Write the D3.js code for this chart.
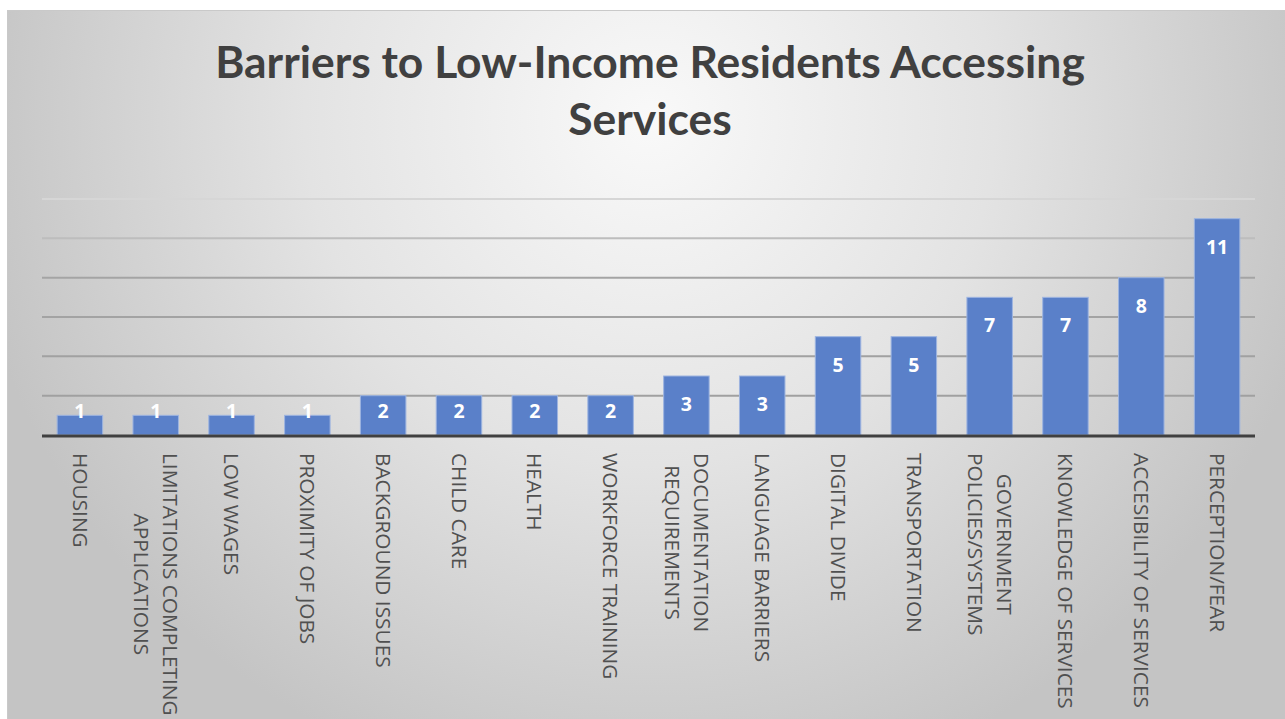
<!DOCTYPE html>
<html>
<head>
<meta charset="utf-8">
<script src="https://cdn.jsdelivr.net/npm/d3@7"></script>
<style>
  html, body { margin: 0; padding: 0; background: #ffffff; }
  svg { display: block; }
</style>
</head>
<body>
<svg id="chart" width="1285" height="719"></svg>
<script>
// Survey responses: barriers reported by low-income residents
const categories = [
  "HOUSING",
  "LIMITATIONS COMPLETING\nAPPLICATIONS",
  "LOW WAGES",
  "PROXIMITY OF JOBS",
  "BACKGROUND ISSUES",
  "CHILD CARE",
  "HEALTH",
  "WORKFORCE TRAINING",
  "DOCUMENTATION\nREQUIREMENTS",
  "LANGUAGE BARRIERS",
  "DIGITAL DIVIDE",
  "TRANSPORTATION",
  "GOVERNMENT\nPOLICIES/SYSTEMS",
  "KNOWLEDGE OF SERVICES",
  "ACCESIBILITY OF SERVICES",
  "PERCEPTION/FEAR"
];
const counts = [1, 1, 1, 1, 2, 2, 2, 2, 3, 3, 5, 5, 7, 7, 8, 11];
const gridTicks = [2, 4, 6, 8, 10, 12];
const titleLines = ["Barriers to Low-Income Residents Accessing", "Services"];

const svg = d3.select("#chart");
const W = 1285, H = 719;

// Chart area background with a soft radial shading
const defs = svg.append("defs");
const grad = defs.append("radialGradient")
  .attr("id", "bg")
  .attr("gradientUnits", "userSpaceOnUse")
  .attr("cx", 650).attr("cy", 120)
  .attr("fx", 650).attr("fy", 120)
  .attr("r", 690);
grad.append("stop").attr("offset", "0%").attr("stop-color", "#f9f9f9");
grad.append("stop").attr("offset", "50%").attr("stop-color", "#e3e3e3");
grad.append("stop").attr("offset", "100%").attr("stop-color", "#c4c4c4");

svg.append("rect")
  .attr("x", 7.5).attr("y", 10.5)
  .attr("width", W - 7).attr("height", H - 10)
  .attr("fill", "url(#bg)")
  .attr("stroke", "#c9c9c9").attr("stroke-width", 1);

// Scales
const plot = { left: 42, right: 1255, top: 199, bottom: 435 };
const x = d3.scaleBand()
  .domain(categories)
  .range([plot.left, plot.right])
  .paddingInner(0.4)
  .paddingOuter(0.2);
const y = d3.scaleLinear().domain([0, 12]).range([plot.bottom, plot.top]);

// Horizontal gridlines
const gridColor = d3.scaleLinear().domain([2, 8, 12]).range(["#a0a0a0", "#a4a4a4", "#d6d6d6"]);
svg.append("g")
  .selectAll("line")
  .data(gridTicks)
  .join("line")
  .attr("x1", plot.left).attr("x2", plot.right)
  .attr("y1", d => y(d)).attr("y2", d => y(d))
  .attr("stroke", d => gridColor(d))
  .attr("stroke-width", 2);

// Bars
svg.append("g")
  .selectAll("rect")
  .data(counts)
  .join("rect")
  .attr("x", (d, i) => x(categories[i]))
  .attr("y", d => y(d))
  .attr("width", x.bandwidth())
  .attr("height", d => y(0) - y(d))
  .attr("fill", "#5a80c9")
  .attr("stroke", "#9db4e0")
  .attr("stroke-width", 1);

// Value labels inside the bar ends
svg.append("g")
  .selectAll("text")
  .data(counts)
  .join("text")
  .attr("x", (d, i) => x(categories[i]) + x.bandwidth() / 2)
  .attr("y", d => Math.min(y(d) + 28, y(0) - 24) + 7)
  .attr("text-anchor", "middle")
  .attr("font-family", "'Open Sans', sans-serif")
  .attr("font-weight", 700)
  .attr("font-size", 19.5)
  .attr("fill", "#ffffff")
  .text(d => d);

// Category axis baseline
svg.append("line")
  .attr("x1", plot.left).attr("x2", plot.right)
  .attr("y1", y(0) + 1).attr("y2", y(0) + 1)
  .attr("stroke", "#404040")
  .attr("stroke-width", 3);

// Rotated category labels (read top to bottom)
const lineGap = 29;
const labelTop = 453;
const labelG = svg.append("g");
categories.forEach((c, i) => {
  const lines = c.split("\n");
  const cx = x(c) + x.bandwidth() / 2;
  const t = labelG.append("text")
    .attr("font-family", "'Open Sans', sans-serif")
    .attr("font-size", 20.8)
    .attr("fill", "#505050")
    .attr("text-anchor", "middle");
  const spans = lines.map((ln, k) =>
    t.append("tspan").text(ln)
  );
  const lens = spans.map(s => s.node().getComputedTextLength());
  const maxLen = d3.max(lens);
  spans.forEach((s, k) => {
    const off = (k - (lines.length - 1) / 2) * lineGap;
    s.attr("x", maxLen / 2).attr("y", off + 7.3);
  });
  t.attr("transform", `translate(${cx},${labelTop}) rotate(90)`);
});

// Title, scaled to its measured width
const title = svg.append("text")
  .attr("text-anchor", "middle")
  .attr("font-family", "Lato, sans-serif")
  .attr("font-weight", 700)
  .attr("font-size", 40)
  .attr("fill", "#404040");
title.append("tspan").attr("x", 650).attr("y", 78).text(titleLines[0]);
const firstW = title.select("tspan").node().getComputedTextLength();
const fs = 40 * 870 / firstW;
title.attr("font-size", fs);
title.append("tspan").attr("x", 650).attr("y", 135).text(titleLines[1]);
</script>
</body>
</html>
